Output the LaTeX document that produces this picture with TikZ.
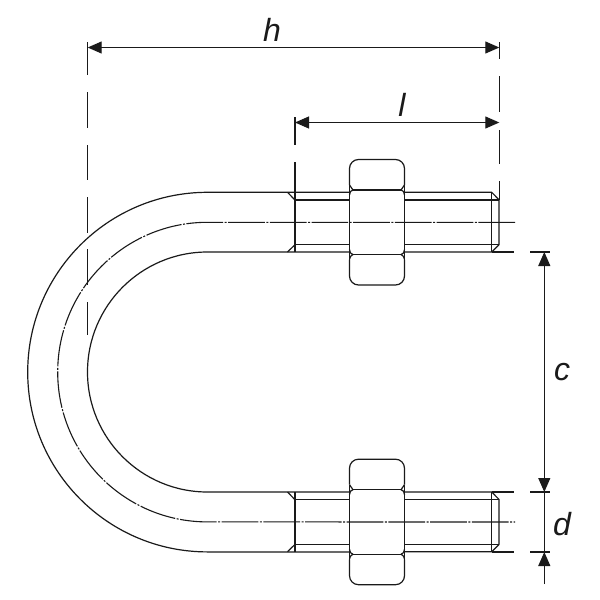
\documentclass[tikz,border=0pt]{standalone}
\usepackage{fontspec}
\setmainfont{Liberation Sans}
\usetikzlibrary{arrows.meta}
\definecolor{ink}{HTML}{1A1A1A}
\tikzset{
  part/.style={draw=ink,line width=1.2pt,line join=round},
  dim/.style={draw=ink,line width=1.1pt},
  dimarrow/.style={dim,{Triangle[length=14pt,width=12pt]}-{Triangle[length=14pt,width=12pt]}},
  onearrow/.style={dim,-{Triangle[length=14pt,width=12pt]}},
  ctr/.style={draw=ink,line width=1.1pt,dash pattern=on 36.7pt off 1.5pt on 2pt off 1.5pt},
  lab/.style={font=\fontsize{32}{32}\selectfont\itshape,text=ink,inner sep=0pt}
}
\newcommand{\nutshape}[1]{%
  \begin{scope}[yshift=#1]
    \draw[part,rounded corners=9pt] (349.5,185) -- (349.5,159.5) -- (404.5,159.5) -- (404.5,185);
    \draw[part,rounded corners=9pt] (349.5,260) -- (349.5,285) -- (404.5,285) -- (404.5,260);
    \draw[part] (349.5,185) -- (349.5,260) (404.5,185) -- (404.5,260);
    \draw[part] (353,190) -- (401,190) (353,254.5) -- (401,254.5);
    \draw[part] (349.5,185) .. controls (350.5,188) .. (353,190) .. controls (350.5,191) .. (349.5,195);
    \draw[part] (404.5,185) .. controls (403.5,188) .. (401,190) .. controls (403.5,191) .. (404.5,195);
    \draw[part] (349.5,249.5) .. controls (350.5,253.5) .. (353,254.5) .. controls (350.5,256) .. (349.5,259.5);
    \draw[part] (404.5,249.5) .. controls (403.5,253.5) .. (401,254.5) .. controls (403.5,256) .. (404.5,259.5);
  \end{scope}}
\newcommand{\threadshape}[1]{%
  \begin{scope}[yshift=#1]
    \draw[part] (287.5,192.3) -- (295,200) (287.5,252) -- (295,244.7);
    \draw[part] (295,200) -- (349.5,200) (295,244.7) -- (349.5,244.7);
    \draw[part] (404.5,192.3) -- (491.7,192.3) -- (499,199.7) -- (499,244.7) -- (491.7,252) -- (404.5,252);
    \draw[part] (404.5,200) -- (499,200) (404.5,244.7) -- (499,244.7);
    \draw[part] (491.7,192.3) -- (491.7,252);
    \draw[part] (295,192.3) -- (295,252);
  \end{scope}}
\begin{document}
\begin{tikzpicture}[x=1pt,y=-1pt]
  \useasboundingbox[fill=white] (0,0) rectangle (600,600);
  % U bend
  \draw[part] (349.5,192.3) -- (207.5,192.3) arc[start angle=270,end angle=90,radius=179.8] -- (349.5,552);
  \draw[part] (349.5,252) -- (207.5,252) arc[start angle=270,end angle=90,radius=120] -- (349.5,492);
  \draw[ctr] (515,222.3) -- (207.5,222.3) arc[start angle=270,end angle=90,radius=149.8] -- (515,522);
  \threadshape{0pt}
  \threadshape{-299.7pt}
  \nutshape{0pt}
  \nutshape{-299.7pt}
  % extension lines
  \draw[dim] (87.7,42) -- (87.7,75) (87.7,92) -- (87.7,128) (87.7,145) -- (87.7,180) (87.7,197) -- (87.7,233) (87.7,249) -- (87.7,285) (87.7,302) -- (87.7,335);
  \draw[dim] (499.3,42) -- (499.3,59) (499.3,76) -- (499.3,112) (499.3,130) -- (499.3,164) (499.3,181) -- (499.3,200);
  \draw[dim] (295,117) -- (295,145) (295,162) -- (295,192);
  \draw[dim] (491.7,252) -- (513.5,252) (491.7,492) -- (513.5,492) (491.7,552) -- (513.5,552);
  \draw[dim] (530,252) -- (549.5,252) (530,492) -- (549.5,492) (530,552) -- (549.5,552);
  % dimension arrows
  \coordinate (hL) at (87.7,47.5); \coordinate (hR) at (499.3,47.5);
  \coordinate (lL) at (295,122.5); \coordinate (lR) at (499.3,122.5);
  \coordinate (cT) at (544.3,252); \coordinate (cB) at (544.3,492);
  \coordinate (dB) at (544.3,552); \coordinate (dE) at (544.3,584);
  \draw[dimarrow] (hL) -- (hR);
  \draw[dimarrow] (lL) -- (lR);
  \draw[dimarrow] (cT) -- (cB);
  \draw[dim] (cB) -- (dB);
  \draw[onearrow] (dE) -- (dB);
  % labels
  \node[lab] (h) at (272,30) {h};
  \node[lab] (l) at (402,105) {l};
  \node[lab] (c) at (562,372) {c};
  \node[lab] (d) at (562,524) {d};
\end{tikzpicture}
\end{document}
